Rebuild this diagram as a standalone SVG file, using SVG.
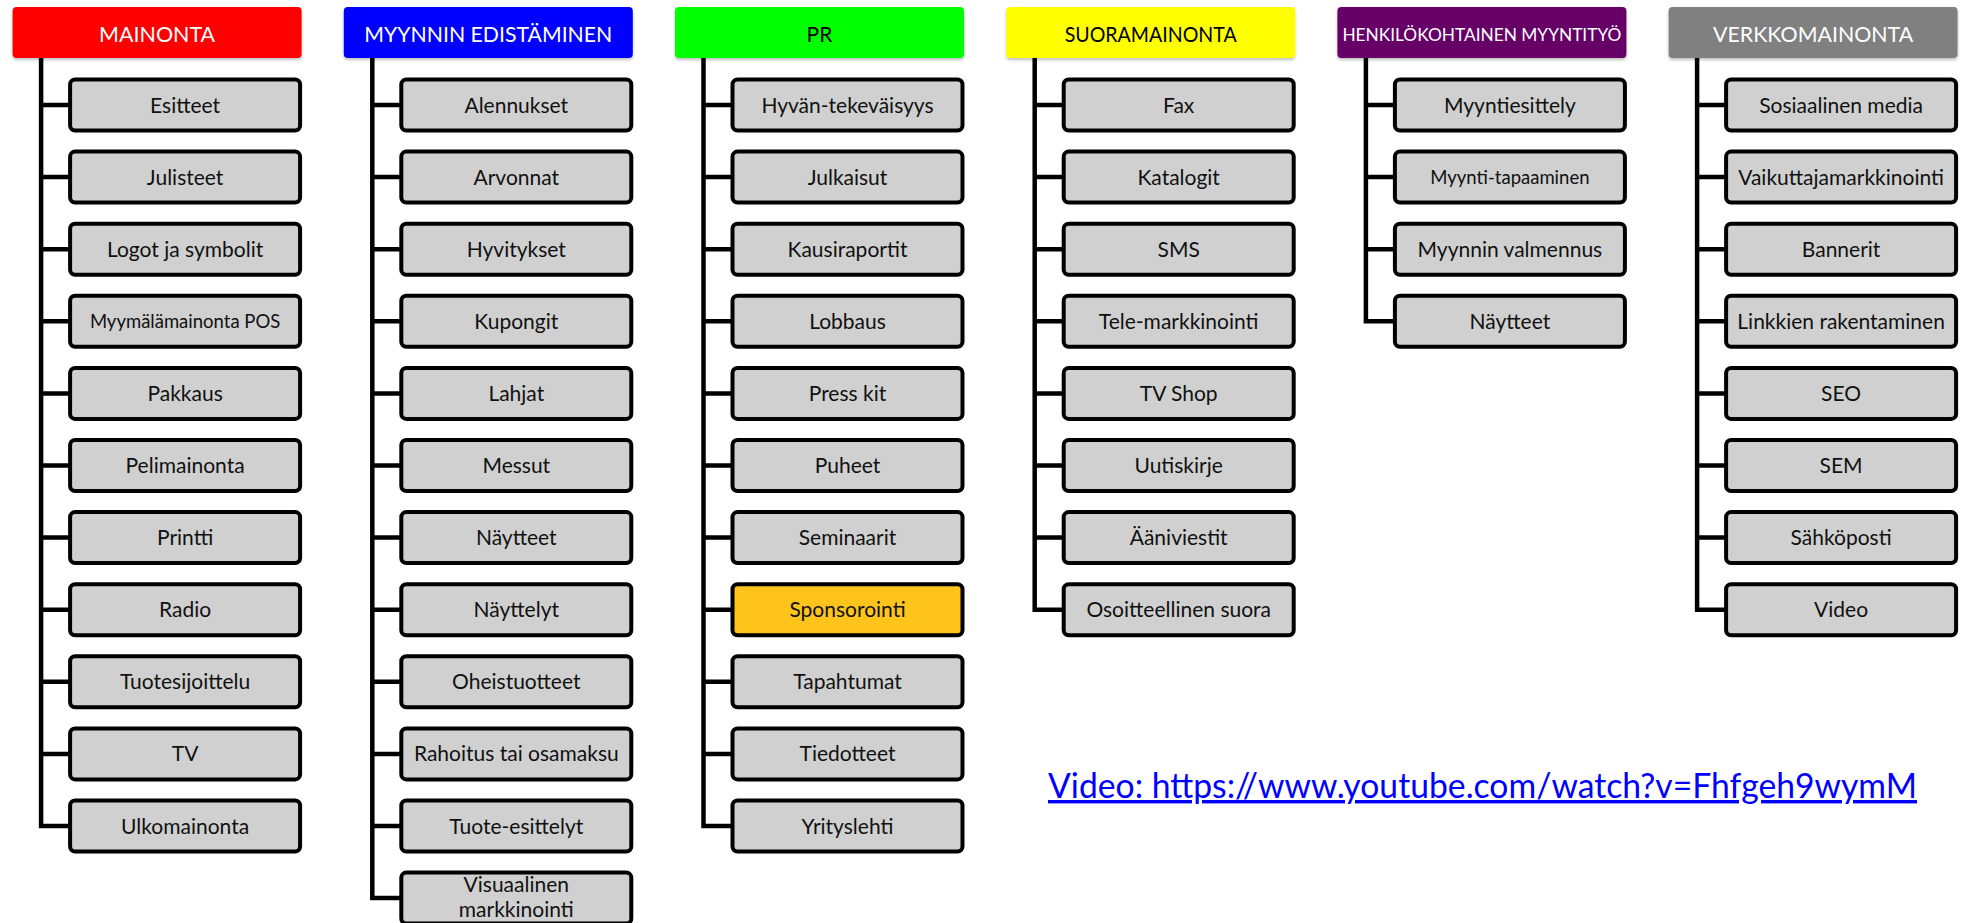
<svg xmlns="http://www.w3.org/2000/svg" width="1973" height="923" viewBox="0 0 1973 923">
<defs>
<filter id="sh" x="-5%" y="-10%" width="110%" height="130%">
<feDropShadow dx="0" dy="2" stdDeviation="1.5" flood-color="#000" flood-opacity="0.25"/>
</filter>
</defs>
<style>
.hd{filter:url(#sh)}
.ht{font-family:Lato,"Liberation Sans",sans-serif;font-size:21px;text-anchor:middle}
.w{fill:#ffffff}
.k{fill:#000000}
.bx{fill:#d0d0d0;stroke:#000;stroke-width:4}
.sp{fill:#ffc41c}
.bt{font-family:Lato,"Liberation Sans",sans-serif;font-size:21px;text-anchor:middle;fill:#111}
.sm{font-size:18.5px}
.cn{fill:none;stroke:#000;stroke-width:4.5;stroke-linejoin:miter}
.lk{font-family:Lato,"Liberation Sans",sans-serif;font-size:34px;fill:#0000ff;text-decoration:underline}
</style>
<rect width="1973" height="923" fill="#ffffff"/>

<g id="connectors">
<path class="cn" d="M41.1 58 V826 H70 M41.1 105 H70 M41.1 177.1 H70 M41.1 249.2 H70 M41.1 321.3 H70 M41.1 393.4 H70 M41.1 465.5 H70 M41.1 537.6 H70 M41.1 609.7 H70 M41.1 681.8 H70 M41.1 753.9 H70"/>
<path class="cn" d="M372.3 58 V898.1 H401 M372.3 105 H401 M372.3 177.1 H401 M372.3 249.2 H401 M372.3 321.3 H401 M372.3 393.4 H401 M372.3 465.5 H401 M372.3 537.6 H401 M372.3 609.7 H401 M372.3 681.8 H401 M372.3 753.9 H401 M372.3 826 H401"/>
<path class="cn" d="M703.5 58 V826 H732 M703.5 105 H732 M703.5 177.1 H732 M703.5 249.2 H732 M703.5 321.3 H732 M703.5 393.4 H732 M703.5 465.5 H732 M703.5 537.6 H732 M703.5 609.7 H732 M703.5 681.8 H732 M703.5 753.9 H732"/>
<path class="cn" d="M1034.7 58 V609.7 H1063 M1034.7 105 H1063 M1034.7 177.1 H1063 M1034.7 249.2 H1063 M1034.7 321.3 H1063 M1034.7 393.4 H1063 M1034.7 465.5 H1063 M1034.7 537.6 H1063"/>
<path class="cn" d="M1365.9 58 V321.3 H1394 M1365.9 105 H1394 M1365.9 177.1 H1394 M1365.9 249.2 H1394"/>
<path class="cn" d="M1697.1 58 V609.7 H1726 M1697.1 105 H1726 M1697.1 177.1 H1726 M1697.1 249.2 H1726 M1697.1 321.3 H1726 M1697.1 393.4 H1726 M1697.1 465.5 H1726 M1697.1 537.6 H1726"/>
</g>

<!-- Column 1: MAINONTA -->
<g id="h-mainonta"><rect class="hd" x="12.6" y="7" width="289" height="51" rx="4" fill="#ff0000"/><text class="ht w" x="157.1" y="42" textLength="116" lengthAdjust="spacingAndGlyphs">MAINONTA</text></g>
<g id="n-esitteet"><rect class="bx" x="70.1" y="79.5" width="230" height="51" rx="5"/><text class="bt" x="185.1" y="112.5">Esitteet</text></g>
<g id="n-julisteet"><rect class="bx" x="70.1" y="151.6" width="230" height="51" rx="5"/><text class="bt" x="185.1" y="184.6">Julisteet</text></g>
<g id="n-logot"><rect class="bx" x="70.1" y="223.7" width="230" height="51" rx="5"/><text class="bt" x="185.1" y="256.7">Logot ja symbolit</text></g>
<g id="n-myymala"><rect class="bx" x="70.1" y="295.8" width="230" height="51" rx="5"/><text class="bt sm" x="185.1" y="328">Myymälämainonta POS</text></g>
<g id="n-pakkaus"><rect class="bx" x="70.1" y="367.9" width="230" height="51" rx="5"/><text class="bt" x="185.1" y="400.9">Pakkaus</text></g>
<g id="n-pelimainonta"><rect class="bx" x="70.1" y="440" width="230" height="51" rx="5"/><text class="bt" x="185.1" y="473">Pelimainonta</text></g>
<g id="n-printti"><rect class="bx" x="70.1" y="512.1" width="230" height="51" rx="5"/><text class="bt" x="185.1" y="545.1">Printti</text></g>
<g id="n-radio"><rect class="bx" x="70.1" y="584.2" width="230" height="51" rx="5"/><text class="bt" x="185.1" y="617.2">Radio</text></g>
<g id="n-tuotesijoittelu"><rect class="bx" x="70.1" y="656.3" width="230" height="51" rx="5"/><text class="bt" x="185.1" y="689.3">Tuotesijoittelu</text></g>
<g id="n-tv"><rect class="bx" x="70.1" y="728.4" width="230" height="51" rx="5"/><text class="bt" x="185.1" y="761.4">TV</text></g>
<g id="n-ulkomainonta"><rect class="bx" x="70.1" y="800.5" width="230" height="51" rx="5"/><text class="bt" x="185.1" y="833.5">Ulkomainonta</text></g>

<!-- Column 2: MYYNNIN EDISTÄMINEN -->
<g id="h-myynnin"><rect class="hd" x="343.8" y="7" width="289" height="51" rx="4" fill="#0000ff"/><text class="ht w" x="488.3" y="42" textLength="248" lengthAdjust="spacingAndGlyphs">MYYNNIN EDISTÄMINEN</text></g>
<g id="n-alennukset"><rect class="bx" x="401.3" y="79.5" width="230" height="51" rx="5"/><text class="bt" x="516.3" y="112.5">Alennukset</text></g>
<g id="n-arvonnat"><rect class="bx" x="401.3" y="151.6" width="230" height="51" rx="5"/><text class="bt" x="516.3" y="184.6">Arvonnat</text></g>
<g id="n-hyvitykset"><rect class="bx" x="401.3" y="223.7" width="230" height="51" rx="5"/><text class="bt" x="516.3" y="256.7">Hyvitykset</text></g>
<g id="n-kupongit"><rect class="bx" x="401.3" y="295.8" width="230" height="51" rx="5"/><text class="bt" x="516.3" y="328.8">Kupongit</text></g>
<g id="n-lahjat"><rect class="bx" x="401.3" y="367.9" width="230" height="51" rx="5"/><text class="bt" x="516.3" y="400.9">Lahjat</text></g>
<g id="n-messut"><rect class="bx" x="401.3" y="440" width="230" height="51" rx="5"/><text class="bt" x="516.3" y="473">Messut</text></g>
<g id="n-naytteet1"><rect class="bx" x="401.3" y="512.1" width="230" height="51" rx="5"/><text class="bt" x="516.3" y="545.1">Näytteet</text></g>
<g id="n-nayttelyt"><rect class="bx" x="401.3" y="584.2" width="230" height="51" rx="5"/><text class="bt" x="516.3" y="617.2">Näyttelyt</text></g>
<g id="n-oheistuotteet"><rect class="bx" x="401.3" y="656.3" width="230" height="51" rx="5"/><text class="bt" x="516.3" y="689.3">Oheistuotteet</text></g>
<g id="n-rahoitus"><rect class="bx" x="401.3" y="728.4" width="230" height="51" rx="5"/><text class="bt" x="516.3" y="761.4">Rahoitus tai osamaksu</text></g>
<g id="n-tuote-esittelyt"><rect class="bx" x="401.3" y="800.5" width="230" height="51" rx="5"/><text class="bt" x="516.3" y="833.5">Tuote-esittelyt</text></g>
<g id="n-visuaalinen"><rect class="bx" x="401.3" y="872.6" width="230" height="51" rx="5"/><text class="bt" x="516.3" y="892">Visuaalinen</text><text class="bt" x="516.3" y="917">markkinointi</text></g>

<!-- Column 3: PR -->
<g id="h-pr"><rect class="hd" x="675" y="7" width="289" height="51" rx="4" fill="#00ff00"/><text class="ht k" x="819.5" y="42">PR</text></g>
<g id="n-hyvan"><rect class="bx" x="732.5" y="79.5" width="230" height="51" rx="5"/><text class="bt" x="847.5" y="112.5">Hyvän-tekeväisyys</text></g>
<g id="n-julkaisut"><rect class="bx" x="732.5" y="151.6" width="230" height="51" rx="5"/><text class="bt" x="847.5" y="184.6">Julkaisut</text></g>
<g id="n-kausiraportit"><rect class="bx" x="732.5" y="223.7" width="230" height="51" rx="5"/><text class="bt" x="847.5" y="256.7">Kausiraportit</text></g>
<g id="n-lobbaus"><rect class="bx" x="732.5" y="295.8" width="230" height="51" rx="5"/><text class="bt" x="847.5" y="328.8">Lobbaus</text></g>
<g id="n-presskit"><rect class="bx" x="732.5" y="367.9" width="230" height="51" rx="5"/><text class="bt" x="847.5" y="400.9">Press kit</text></g>
<g id="n-puheet"><rect class="bx" x="732.5" y="440" width="230" height="51" rx="5"/><text class="bt" x="847.5" y="473">Puheet</text></g>
<g id="n-seminaarit"><rect class="bx" x="732.5" y="512.1" width="230" height="51" rx="5"/><text class="bt" x="847.5" y="545.1">Seminaarit</text></g>
<g id="n-sponsorointi"><rect class="bx sp" x="732.5" y="584.2" width="230" height="51" rx="5"/><text class="bt" x="847.5" y="617.2">Sponsorointi</text></g>
<g id="n-tapahtumat"><rect class="bx" x="732.5" y="656.3" width="230" height="51" rx="5"/><text class="bt" x="847.5" y="689.3">Tapahtumat</text></g>
<g id="n-tiedotteet"><rect class="bx" x="732.5" y="728.4" width="230" height="51" rx="5"/><text class="bt" x="847.5" y="761.4">Tiedotteet</text></g>
<g id="n-yrityslehti"><rect class="bx" x="732.5" y="800.5" width="230" height="51" rx="5"/><text class="bt" x="847.5" y="833.5">Yrityslehti</text></g>

<!-- Column 4: SUORAMAINONTA -->
<g id="h-suora"><rect class="hd" x="1006.2" y="7" width="289" height="51" rx="4" fill="#ffff00"/><text class="ht k" x="1150.7" y="42" textLength="172" lengthAdjust="spacingAndGlyphs">SUORAMAINONTA</text></g>
<g id="n-fax"><rect class="bx" x="1063.7" y="79.5" width="230" height="51" rx="5"/><text class="bt" x="1178.7" y="112.5">Fax</text></g>
<g id="n-katalogit"><rect class="bx" x="1063.7" y="151.6" width="230" height="51" rx="5"/><text class="bt" x="1178.7" y="184.6">Katalogit</text></g>
<g id="n-sms"><rect class="bx" x="1063.7" y="223.7" width="230" height="51" rx="5"/><text class="bt" x="1178.7" y="256.7">SMS</text></g>
<g id="n-telemarkkinointi"><rect class="bx" x="1063.7" y="295.8" width="230" height="51" rx="5"/><text class="bt" x="1178.7" y="328.8">Tele-markkinointi</text></g>
<g id="n-tvshop"><rect class="bx" x="1063.7" y="367.9" width="230" height="51" rx="5"/><text class="bt" x="1178.7" y="400.9">TV Shop</text></g>
<g id="n-uutiskirje"><rect class="bx" x="1063.7" y="440" width="230" height="51" rx="5"/><text class="bt" x="1178.7" y="473">Uutiskirje</text></g>
<g id="n-aaniviestit"><rect class="bx" x="1063.7" y="512.1" width="230" height="51" rx="5"/><text class="bt" x="1178.7" y="545.1">Ääniviestit</text></g>
<g id="n-osoitteellinen"><rect class="bx" x="1063.7" y="584.2" width="230" height="51" rx="5"/><text class="bt" x="1178.7" y="617.2">Osoitteellinen suora</text></g>

<!-- Column 5: HENKILÖKOHTAINEN MYYNTITYÖ -->
<g id="h-henk"><rect class="hd" x="1337.4" y="7" width="289" height="51" rx="4" fill="#660066"/><text class="ht w" x="1481.9" y="41" style="font-size:18px" textLength="279" lengthAdjust="spacingAndGlyphs">HENKILÖKOHTAINEN MYYNTITYÖ</text></g>
<g id="n-myyntiesittely"><rect class="bx" x="1394.9" y="79.5" width="230" height="51" rx="5"/><text class="bt" x="1509.9" y="112.5">Myyntiesittely</text></g>
<g id="n-myyntitapaaminen"><rect class="bx" x="1394.9" y="151.6" width="230" height="51" rx="5"/><text class="bt sm" x="1509.9" y="183.8">Myynti-tapaaminen</text></g>
<g id="n-valmennus"><rect class="bx" x="1394.9" y="223.7" width="230" height="51" rx="5"/><text class="bt" x="1509.9" y="256.7">Myynnin valmennus</text></g>
<g id="n-naytteet2"><rect class="bx" x="1394.9" y="295.8" width="230" height="51" rx="5"/><text class="bt" x="1509.9" y="328.8">Näytteet</text></g>

<!-- Column 6: VERKKOMAINONTA -->
<g id="h-verkko"><rect class="hd" x="1668.6" y="7" width="289" height="51" rx="4" fill="#808080"/><text class="ht w" x="1813.1" y="42" textLength="200" lengthAdjust="spacingAndGlyphs">VERKKOMAINONTA</text></g>
<g id="n-some"><rect class="bx" x="1726.1" y="79.5" width="230" height="51" rx="5"/><text class="bt" x="1841.1" y="112.5">Sosiaalinen media</text></g>
<g id="n-vaikuttaja"><rect class="bx" x="1726.1" y="151.6" width="230" height="51" rx="5"/><text class="bt" x="1841.1" y="184.6">Vaikuttajamarkkinointi</text></g>
<g id="n-bannerit"><rect class="bx" x="1726.1" y="223.7" width="230" height="51" rx="5"/><text class="bt" x="1841.1" y="256.7">Bannerit</text></g>
<g id="n-linkkien"><rect class="bx" x="1726.1" y="295.8" width="230" height="51" rx="5"/><text class="bt" x="1841.1" y="328.8">Linkkien rakentaminen</text></g>
<g id="n-seo"><rect class="bx" x="1726.1" y="367.9" width="230" height="51" rx="5"/><text class="bt" x="1841.1" y="400.9">SEO</text></g>
<g id="n-sem"><rect class="bx" x="1726.1" y="440" width="230" height="51" rx="5"/><text class="bt" x="1841.1" y="473">SEM</text></g>
<g id="n-sahkoposti"><rect class="bx" x="1726.1" y="512.1" width="230" height="51" rx="5"/><text class="bt" x="1841.1" y="545.1">Sähköposti</text></g>
<g id="n-video"><rect class="bx" x="1726.1" y="584.2" width="230" height="51" rx="5"/><text class="bt" x="1841.1" y="617.2">Video</text></g>

<g id="link"><text class="lk" x="1048" y="798" textLength="869" lengthAdjust="spacingAndGlyphs">Video: https://www.youtube.com/watch?v=Fhfgeh9wymM</text></g>
</svg>
